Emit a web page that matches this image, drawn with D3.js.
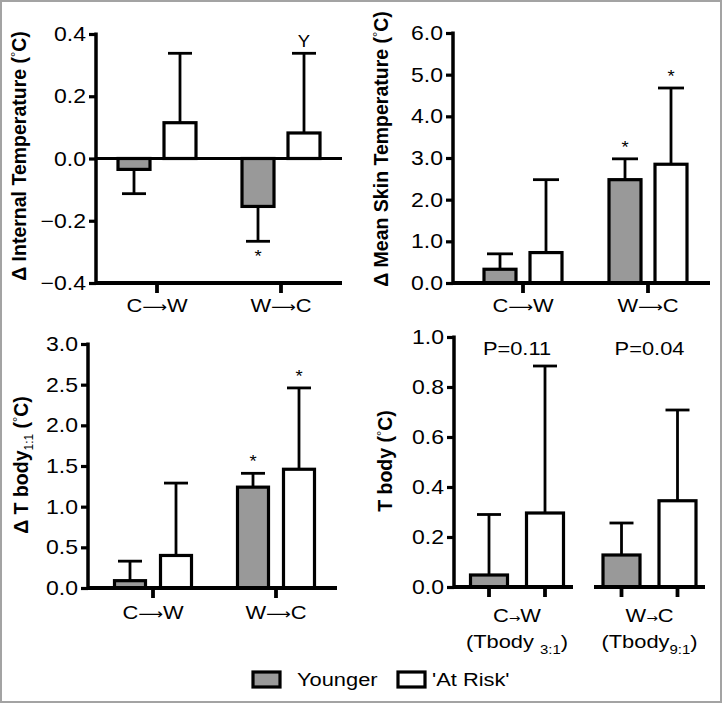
<!DOCTYPE html>
<html><head><meta charset="utf-8">
<script src="https://cdn.jsdelivr.net/npm/d3@7"></script>
<style>body{margin:0;background:#fff}svg{display:block}text{font-family:"Liberation Sans",Arial,sans-serif;fill:#000}</style>
</head><body>
<script>
// ---------- data ----------
const categories = ["C\u27F6W", "W\u27F6C"];
const categoriesShort = ["C\u2192W", "W\u2192C"];
const series = ["Younger", "'At Risk'"];
const seriesFill = ["#999999", "#ffffff"];

// Panel A: Δ Internal Temperature
const internalYounger = [-0.035, -0.154];
const internalYoungerSD = [0.078, 0.112];
const internalAtRisk = [0.115, 0.082];
const internalAtRiskSD = [0.223, 0.256];
const internalTicks = [-0.4, -0.2, 0.0, 0.2, 0.4];

// Panel B: Δ Mean Skin Temperature
const skinYounger = [0.33, 2.48];
const skinYoungerSD = [0.37, 0.50];
const skinAtRisk = [0.73, 2.85];
const skinAtRiskSD = [1.75, 1.83];
const skinTicks = [0, 1, 2, 3, 4, 5, 6];

// Panel C: Δ Tbody 1:1
const tbodyYounger = [0.09, 1.24];
const tbodyYoungerSD = [0.24, 0.17];
const tbodyAtRisk = [0.40, 1.46];
const tbodyAtRiskSD = [0.89, 1.00];
const tbodyTicks = [0, 0.5, 1.0, 1.5, 2.0, 2.5, 3.0];

// Panel D: Tbody (3:1 and 9:1)
const tbYounger = [0.048, 0.128];
const tbYoungerSD = [0.242, 0.128];
const tbAtRisk = [0.296, 0.345];
const tbAtRiskSD = [0.588, 0.363];
const tbTicks = [0, 0.2, 0.4, 0.6, 0.8, 1.0];
const tbSubs = ["3:1", "9:1"];
const pLabels = ["P=0.11", "P=0.04"];

// ---------- drawing ----------
const W = 723, H = 704;
const svg = d3.select("body").append("svg").attr("width", W).attr("height", H);
svg.append("rect").attr("x", 1).attr("y", 1).attr("width", W - 3).attr("height", H - 3)
  .attr("fill", "#fff").attr("stroke", "#a3a3a3").attr("stroke-width", 2);

const SX = 1.15; // horizontal text stretch seen in the reference
function stext(g, x, y, str, size, anchor, weight) {
  return g.append("text").attr("transform", `translate(${x},${y}) scale(${SX},1)`)
    .attr("text-anchor", anchor || "middle").attr("font-size", size)
    .attr("font-weight", weight || "normal").text(str);
}

function panel(cfg) {
  const g = svg.append("g");
  const y = d3.scaleLinear().domain(cfg.domain).range([cfg.yBottom, cfg.yTop]);
  const x = d3.scalePoint().domain(categories).range(cfg.groupX);
  const inner = d3.scalePoint().domain(series).range([-cfg.off, cfg.off]);

  // y axis
  const ax = g.append("g").attr("transform", `translate(${cfg.axisX},0)`)
    .call(d3.axisLeft(y).tickValues(cfg.ticks).tickSize(7).tickPadding(3)
      .tickFormat(cfg.fmt));
  ax.select(".domain").remove();
  ax.selectAll(".tick line").attr("stroke-width", 3.2);
  ax.selectAll(".tick text").remove();
  g.append("line").attr("x1", cfg.axisX).attr("x2", cfg.axisX).attr("y1", cfg.yTop - 1.5).attr("y2", cfg.yBottom + 1.5)
    .attr("stroke", "#000").attr("stroke-width", 3.5);
  cfg.ticks.forEach(t => {
    stext(g, cfg.axisX - 10, y(t) + 7, cfg.fmt(t), 20, "end");
  });

  // bars
  const data = [];
  categories.forEach((c, i) => {
    data.push({c, s: series[0], v: cfg.y1[i], e: cfg.e1[i], k: 0});
    data.push({c, s: series[1], v: cfg.y2[i], e: cfg.e2[i], k: 1});
  });
  // error bars
  data.forEach(d => {
    const cx = x(d.c) + inner(d.s);
    const sign = d.v >= 0 ? 1 : -1;
    const y0 = y(d.v), y1 = y(d.v + sign * d.e);
    g.append("line").attr("x1", cx).attr("x2", cx).attr("y1", y0).attr("y2", y1)
      .attr("stroke", "#000").attr("stroke-width", 2.8);
    g.append("line").attr("x1", cx - cfg.cap).attr("x2", cx + cfg.cap).attr("y1", y1).attr("y2", y1)
      .attr("stroke", "#000").attr("stroke-width", 2.8);
  });
  data.forEach(d => {
    const cx = x(d.c) + inner(d.s);
    const zero = y(0);
    g.append("rect").attr("x", cx - cfg.bw / 2).attr("width", cfg.bw)
      .attr("y", Math.min(y(d.v), zero)).attr("height", Math.abs(y(d.v) - zero))
      .attr("fill", seriesFill[d.k]).attr("stroke", "#000").attr("stroke-width", 3.2);
  });

  // baseline(s)
  cfg.segments.forEach(sg => {
    g.append("line").attr("x1", sg[0]).attr("x2", sg[1]).attr("y1", y(cfg.domain[0])).attr("y2", y(cfg.domain[0]))
      .attr("stroke", "#000").attr("stroke-width", 3.8);
  });
  if (cfg.domain[0] < 0) {
    g.append("line").attr("x1", cfg.axisX).attr("x2", cfg.segments[0][1]).attr("y1", y(0)).attr("y2", y(0))
      .attr("stroke", "#000").attr("stroke-width", 3.2);
  }
  // category ticks
  const tickXs = cfg.barTicks
    ? data.map(d => x(d.c) + inner(d.s))
    : categories.map(c => x(c));
  tickXs.forEach(tx => {
    g.append("line").attr("x1", tx).attr("x2", tx).attr("y1", y(cfg.domain[0])).attr("y2", y(cfg.domain[0]) + 10)
      .attr("stroke", "#000").attr("stroke-width", 3.8);
  });

  // y label
  const lab = g.append("text").attr("transform", `translate(${cfg.labX},${cfg.labY}) rotate(-90)`)
    .attr("text-anchor", "middle").attr("font-size", 19.5).attr("font-weight", "bold");
  cfg.label(lab);

  return {g, x, y, inner};
}

const fmt1 = d3.format(".1f");
function degC(t, prefix) {
  t.append("tspan").text(prefix + " (");
  t.append("tspan").attr("font-size", 13).attr("font-weight", "normal").attr("dy", -6).text("\u00b0");
  t.append("tspan").attr("dy", 6).text("C)");
}
function catLabel(g, x, y, c) {
  return g.append("text").attr("transform", `translate(${x},${y}) scale(${SX},1)`)
    .attr("text-anchor", "middle").attr("font-size", 19)
    .call(t => {
      t.append("tspan").text(c[0]);
      t.append("tspan").attr("font-family", "DejaVu Sans").attr("font-size", 15).text(c[1]);
      t.append("tspan").text(c[2]);
    });
}

// Panel A
const pA = panel({domain: [-0.4, 0.4], yBottom: 283, yTop: 34, axisX: 96, groupX: [157, 281],
  off: 23, bw: 32, cap: 12, ticks: internalTicks, fmt: fmt1,
  y1: internalYounger, e1: internalYoungerSD, y2: internalAtRisk, e2: internalAtRiskSD,
  segments: [[96, 342]], labX: 26, labY: 156,
  label: t => degC(t, "\u0394 Internal Temperature")});
categories.forEach(c => catLabel(pA.g, pA.x(c), 312, c));
stext(pA.g, pA.x(categories[1]) + pA.inner(series[0]), 262, "*", 16);
stext(pA.g, pA.x(categories[1]) + pA.inner(series[1]), 47, "Y", 16);

// Panel B
const pB = panel({domain: [0, 6], yBottom: 283, yTop: 33, axisX: 453, groupX: [523, 648],
  off: 23, bw: 32, cap: 13, ticks: skinTicks, fmt: fmt1,
  y1: skinYounger, e1: skinYoungerSD, y2: skinAtRisk, e2: skinAtRiskSD,
  segments: [[453, 710]], labX: 388, labY: 149,
  label: t => degC(t, "\u0394 Mean Skin Temperature")});
categories.forEach(c => catLabel(pB.g, pB.x(c), 312, c));
categories.forEach((c, i) => {
  if (i !== 1) return;
  stext(pB.g, pB.x(c) + pB.inner(series[0]), pB.y(skinYounger[i] + skinYoungerSD[i]) - 6, "*", 16);
  stext(pB.g, pB.x(c) + pB.inner(series[1]), pB.y(skinAtRisk[i] + skinAtRiskSD[i]) - 6, "*", 16);
});

// Panel C
const pC = panel({domain: [0, 3], yBottom: 588, yTop: 344, axisX: 88, groupX: [153, 276],
  off: 23, bw: 31, cap: 12, ticks: tbodyTicks, fmt: fmt1,
  y1: tbodyYounger, e1: tbodyYoungerSD, y2: tbodyAtRisk, e2: tbodyAtRiskSD,
  segments: [[88, 337]], labX: 28, labY: 465,
  label: t => {
    t.append("tspan").text("\u0394 T body");
    t.append("tspan").attr("font-size", 12).attr("font-weight", "normal").attr("dy", 5).text("1:1");
    t.append("tspan").attr("dy", -5).text(" (");
    t.append("tspan").attr("font-size", 13).attr("font-weight", "normal").attr("dy", -6).text("\u00b0");
    t.append("tspan").attr("dy", 6).text("C)");
  }});
categories.forEach(c => catLabel(pC.g, pC.x(c), 619, c));
categories.forEach((c, i) => {
  if (i !== 1) return;
  stext(pC.g, pC.x(c) + pC.inner(series[0]), pC.y(tbodyYounger[i] + tbodyYoungerSD[i]) - 6, "*", 16);
  stext(pC.g, pC.x(c) + pC.inner(series[1]), pC.y(tbodyAtRisk[i] + tbodyAtRiskSD[i]) - 6, "*", 16);
});

// Panel D
const pD = panel({domain: [0, 1], yBottom: 587, yTop: 337, axisX: 454, groupX: [517, 649.5],
  off: 28, bw: 37, cap: 12, ticks: tbTicks, fmt: fmt1, barTicks: true,
  y1: tbYounger, e1: tbYoungerSD, y2: tbAtRisk, e2: tbAtRiskSD,
  segments: [[454, 573], [594, 705]], labX: 392, labY: 461,
  label: t => degC(t, "T body")});
categories.forEach((c, i) => {
  const cx = pD.x(c);
  const t1 = pD.g.append("text").attr("transform", `translate(${cx},622) scale(${SX},1)`)
    .attr("text-anchor", "middle").attr("font-size", 19);
  t1.append("tspan").text(categoriesShort[i][0]);
  t1.append("tspan").attr("font-family", "DejaVu Sans").attr("font-size", 12).text(categoriesShort[i][1]);
  t1.append("tspan").text(categoriesShort[i][2]);
  const t2 = pD.g.append("text").attr("transform", `translate(${cx},648) scale(${SX},1)`)
    .attr("text-anchor", "middle").attr("font-size", 19);
  t2.append("tspan").text(i === 0 ? "(Tbody " : "(Tbody");
  t2.append("tspan").attr("font-size", 13).attr("dy", 6).text(tbSubs[i]);
  t2.append("tspan").attr("dy", -6).text(")");
  stext(pD.g, cx, 355, pLabels[i], 19);
});

// Legend
const leg = svg.append("g");
const legX = [253, 398], legTextX = [297, 432];
series.forEach((s, i) => {
  leg.append("rect").attr("x", legX[i]).attr("y", 672).attr("width", 27).attr("height", 15)
    .attr("fill", seriesFill[i]).attr("stroke", "#000").attr("stroke-width", 3.2);
  stext(leg, legTextX[i], 686, s, 19, "start");
});
</script>
</body></html>
